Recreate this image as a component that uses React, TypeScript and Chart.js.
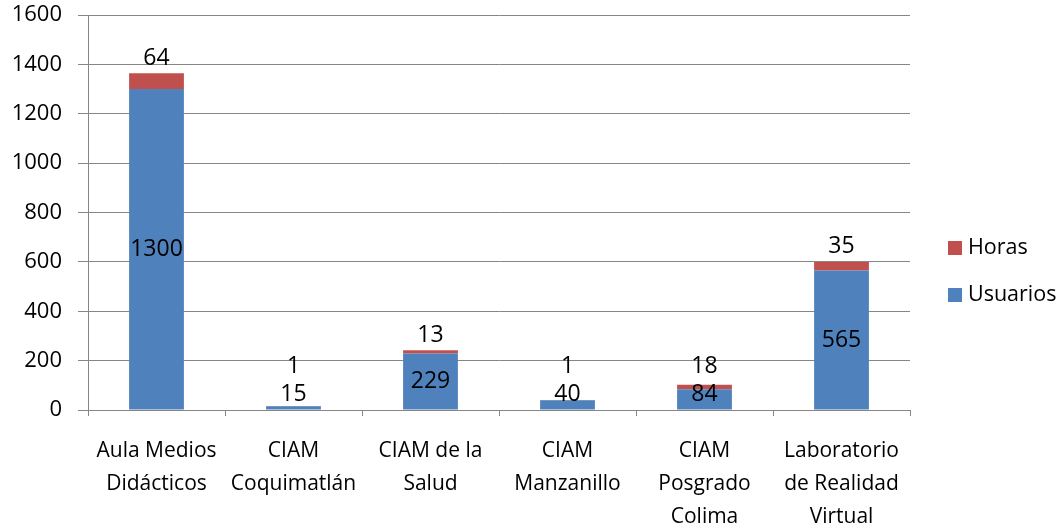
import React, { useEffect, useRef } from "react";
import { Chart, registerables } from "chart.js";

Chart.register(...registerables);

const categories: string[][] = [
  ["Aula Medios", "Didácticos"],
  ["CIAM", "Coquimatlán"],
  ["CIAM de la", "Salud"],
  ["CIAM", "Manzanillo"],
  ["CIAM", "Posgrado", "Colima"],
  ["Laboratorio", "de Realidad", "Virtual"],
];
const usuarios: number[] = [1300, 15, 229, 40, 84, 565];
const horas: number[] = [64, 1, 13, 1, 18, 35];
const yTicks = { min: 0, max: 1600, step: 200 };

const FONT = "'Open Sans', sans-serif";
const BLUE = "#4F81BD";
const RED = "#C0504D";
const GRID = "#868686";

const labelPlugin = {
  id: "stackLabels",
  afterDatasetsDraw(chart: any) {
    const { ctx, chartArea } = chart;
    const mU = chart.getDatasetMeta(0);
    const mH = chart.getDatasetMeta(1);
    ctx.save();
    ctx.font = `23px ${FONT}`;
    ctx.fillStyle = "#000";
    ctx.textAlign = "center";
    ctx.textBaseline = "middle";
    mU.data.forEach((bu: any, i: number) => {
      const bh = mH.data[i];
      const center = (bu.y + bu.base) / 2;
      const uy = Math.min(center, chartArea.bottom - 16);
      const hy = Math.min(bh.y - 15, uy - 28);
      ctx.fillText(String(chart.data.datasets[0].data[i]), bu.x, uy);
      ctx.fillText(String(chart.data.datasets[1].data[i]), bh.x, hy);
    });
    ctx.restore();
  },
};

const legendPlugin = {
  id: "sideLegend",
  afterDraw(chart: any) {
    const { ctx } = chart;
    const items = [chart.data.datasets[1], chart.data.datasets[0]];
    ctx.save();
    ctx.font = `21.5px ${FONT}`;
    ctx.textAlign = "left";
    ctx.textBaseline = "middle";
    items.forEach((ds: any, k: number) => {
      const cy = 248 + k * 47;
      ctx.fillStyle = ds.backgroundColor;
      ctx.fillRect(948, cy - 7, 14, 14);
      ctx.fillStyle = "#000";
      ctx.fillText(ds.label, 968, cy);
    });
    ctx.restore();
  },
};

export default function App() {
  const ref = useRef<HTMLCanvasElement | null>(null);
  useEffect(() => {
    if (!ref.current) return;
    const chart = new Chart(ref.current, {
      type: "bar",
      data: {
        labels: categories,
        datasets: [
          { label: "Usuarios", data: usuarios, backgroundColor: BLUE, stack: "s" },
          { label: "Horas", data: horas, backgroundColor: RED, stack: "s" },
        ],
      },
      options: {
        animation: false,
        responsive: false,
        layout: { padding: { left: 0, right: 154, top: 0, bottom: 0 } },
        plugins: { legend: { display: false }, tooltip: { enabled: false } },
        datasets: { bar: { categoryPercentage: 0.8, barPercentage: 0.5 } },
        scales: {
          x: {
            stacked: true,
            grid: {
              offset: true,
              drawOnChartArea: false,
              drawTicks: true,
              tickLength: 6,
              color: GRID,
            },
            border: { color: GRID },
            ticks: {
              color: "#000",
              font: { family: FONT, size: 21, lineHeight: 1.57 },
              maxRotation: 0,
              autoSkip: false,
              padding: 19,
            },
            afterFit(scale: any) {
              scale.height = 116;
              scale.paddingLeft = 0;
              scale.paddingRight = 0;
            },
          },
          y: {
            stacked: true,
            min: yTicks.min,
            max: yTicks.max,
            grid: { color: GRID, tickLength: 10 },
            border: { color: GRID },
            ticks: {
              stepSize: yTicks.step,
              color: "#000",
              font: { family: FONT, size: 22 },
              padding: 16,
              callback: (v: any) => String(v),
            },
            afterFit(scale: any) {
              scale.width = 88;
              scale.paddingTop = 15;
              scale.paddingBottom = 0;
            },
          },
        },
      },
      plugins: [labelPlugin, legendPlugin],
    });
    return () => chart.destroy();
  }, []);
  return (
    <div style={{ position: "fixed", left: 0, top: 0, width: 1064, height: 526 }}>
      <canvas ref={ref} width={1064} height={526} style={{ display: "block" }} />
    </div>
  );
}
